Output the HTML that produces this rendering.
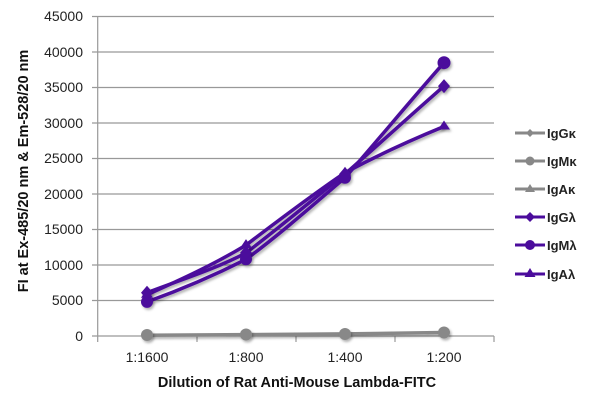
<!DOCTYPE html>
<html><head><meta charset="utf-8"><style>
body{margin:0;background:#fff;}
text{font-family:"Liberation Sans",sans-serif;}
</style></head><body>
<svg width="600" height="403" viewBox="0 0 600 403" xmlns="http://www.w3.org/2000/svg">
<defs><filter id="sh" x="-10%" y="-10%" width="130%" height="130%"><feDropShadow dx="1.5" dy="2" stdDeviation="1.2" flood-color="#000" flood-opacity="0.3"/></filter></defs>
<g stroke="#999" stroke-width="1.2">
<line x1="92" y1="16.5" x2="494" y2="16.5"/>
<line x1="92" y1="52" x2="494" y2="52"/>
<line x1="92" y1="87.5" x2="494" y2="87.5"/>
<line x1="92" y1="123" x2="494" y2="123"/>
<line x1="92" y1="158.5" x2="494" y2="158.5"/>
<line x1="92" y1="194" x2="494" y2="194"/>
<line x1="92" y1="229.5" x2="494" y2="229.5"/>
<line x1="92" y1="265" x2="494" y2="265"/>
<line x1="92" y1="300.5" x2="494" y2="300.5"/>
<line x1="92" y1="336" x2="494" y2="336"/>
<line x1="97.7" y1="16.5" x2="97.7" y2="336"/>
<line x1="97.7" y1="336" x2="97.7" y2="342"/>
<line x1="197" y1="336" x2="197" y2="342"/>
<line x1="296" y1="336" x2="296" y2="342"/>
<line x1="395" y1="336" x2="395" y2="342"/>
<line x1="494" y1="336" x2="494" y2="342"/>
</g>
<g font-size="14" fill="#222" text-anchor="end">
<text x="83" y="21">45000</text><text x="83" y="57">40000</text><text x="83" y="92">35000</text>
<text x="83" y="128">30000</text><text x="83" y="163">25000</text><text x="83" y="199">20000</text>
<text x="83" y="234">15000</text><text x="83" y="270">10000</text><text x="83" y="305">5000</text>
<text x="83" y="341">0</text>
</g>
<g font-size="14" fill="#222" text-anchor="middle">
<text x="147" y="362">1:1600</text><text x="246" y="362">1:800</text><text x="345" y="362">1:400</text><text x="444" y="362">1:200</text>
</g>
<text x="297" y="387" font-size="14.5" font-weight="bold" text-anchor="middle" fill="#111">Dilution of Rat Anti-Mouse Lambda-FITC</text>
<text transform="translate(28,171) rotate(-90)" font-size="14.5" font-weight="bold" text-anchor="middle" fill="#111">FI at Ex-485/20 nm &amp; Em-528/20 nm</text>
<g filter="url(#sh)" fill="none" stroke-width="3.5" stroke-linejoin="round">
<path d="M147,335.3 L246,334.6 L345,333.9 L444,332.5" stroke="#888"/>
<path d="M147,301.9 C180,290 213,276 246,259.3 C279,235 312,206 345,177.7 C378,140 411,100 444,62.7" stroke="#4b0c9c"/>
<path d="M147,292.7 C180,280 213,270 246,252.9 C279,228 312,200 345,174.1 C378,145 411,115 444,86.1" stroke="#4b0c9c"/>
<path d="M147,294.8 C180,280 213,265 246,245.1 C279,220 312,195 345,172.7 C378,155 411,140 444,126.5" stroke="#4b0c9c"/>
</g>
<g filter="url(#sh)">
<circle cx="147" cy="335" r="6" fill="#888"/><circle cx="246" cy="334.5" r="6" fill="#888"/><circle cx="345" cy="334" r="6" fill="#888"/><circle cx="444" cy="332.5" r="6" fill="#888"/>
<circle cx="147" cy="301.9" r="6" fill="#4b0c9c"/><circle cx="246" cy="259.3" r="6" fill="#4b0c9c"/><circle cx="345" cy="177.7" r="6" fill="#4b0c9c"/><circle cx="444" cy="62.7" r="6.5" fill="#4b0c9c"/>
<path d="M147,285.7 l6,7 -6,7 -6,-7z M246,245.9 l6,7 -6,7 -6,-7z M345,167.1 l6,7 -6,7 -6,-7z M444,79.1 l6,7 -6,7 -6,-7z" fill="#4b0c9c"/>
<path d="M147,288.8 l6,9 -12,0z M246,239.1 l6,9 -12,0z M345,166.7 l6,9 -12,0z M444,120.5 l6,9 -12,0z" fill="#4b0c9c"/>
</g>
<g stroke-width="3">
<line x1="515" y1="133" x2="545" y2="133" stroke="#888"/>
<line x1="515" y1="161" x2="545" y2="161" stroke="#888"/>
<line x1="515" y1="189" x2="545" y2="189" stroke="#888"/>
<line x1="515" y1="217" x2="545" y2="217" stroke="#4b0c9c"/>
<line x1="515" y1="245" x2="545" y2="245" stroke="#4b0c9c"/>
<line x1="515" y1="274" x2="545" y2="274" stroke="#4b0c9c"/>
</g>
<path d="M530,129 l4,4 -4,4 -4,-4z" fill="#888"/>
<circle cx="530" cy="161" r="4.5" fill="#888"/>
<path d="M530,184 l5,8 -10,0z" fill="#888"/>
<path d="M530,212 l5,5 -5,5 -5,-5z" fill="#4b0c9c"/>
<circle cx="530" cy="245" r="5" fill="#4b0c9c"/>
<path d="M530,268 l5.5,9 -11,0z" fill="#4b0c9c"/>
<g font-size="13" font-weight="bold" fill="#222">
<text x="547" y="138">IgGκ</text><text x="547" y="166">IgMκ</text><text x="547" y="194">IgAκ</text>
<text x="547" y="222">IgGλ</text><text x="547" y="250">IgMλ</text><text x="547" y="279">IgAλ</text>
</g>
</svg>
</body></html>
